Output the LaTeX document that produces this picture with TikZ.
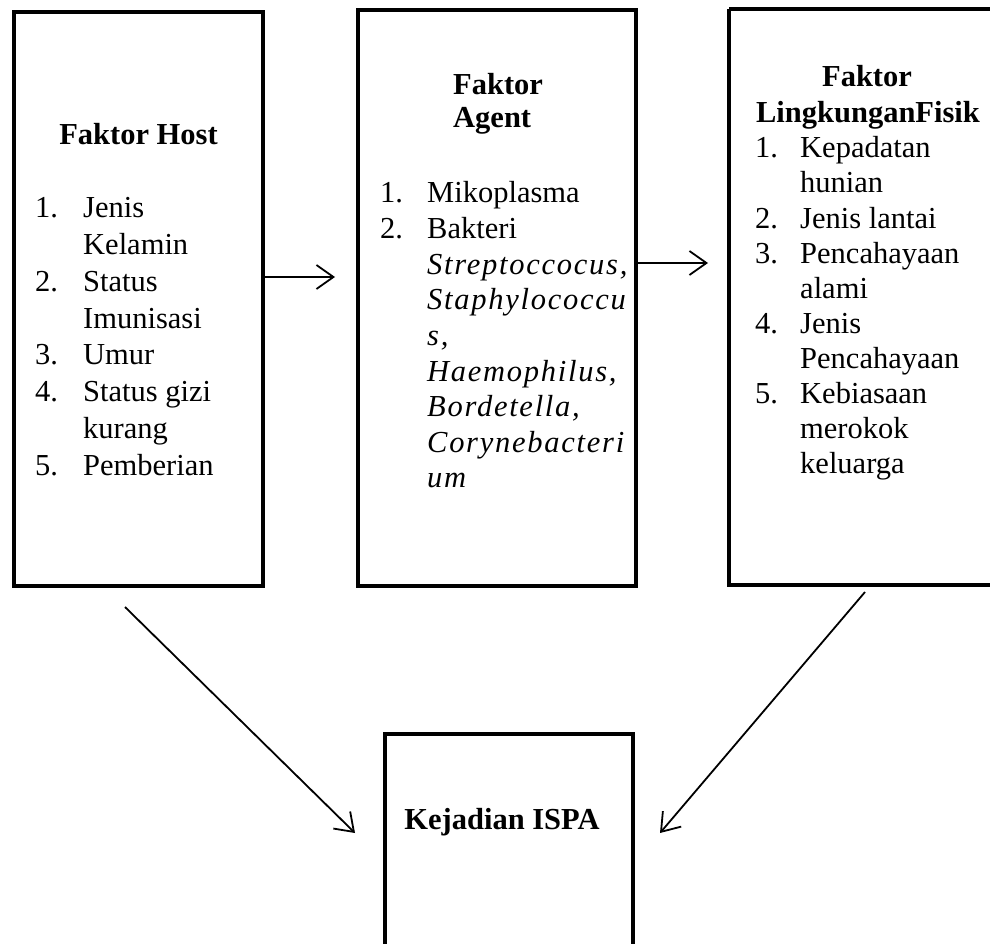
\documentclass[tikz,border=0pt]{standalone}
\usepackage{fontspec}
\setmainfont{Liberation Serif}
\newfontfamily\itsp{Liberation Serif}[LetterSpace=5.7]
\usetikzlibrary{arrows.meta}
\tikzset{
  box/.style={draw, line width=4.5pt, outer sep=0pt, inner sep=0pt, rectangle},
  arr/.style={line width=1.8pt, -{Straight Barb[length=17pt,width=24pt,line width=1.8pt]}},
  txt/.style={anchor=base west, inner sep=0pt, font=\fontsize{30.5}{36}\selectfont},
  ctxt/.style={anchor=base, inner sep=0pt, font=\fontsize{30.5}{36}\selectfont\bfseries},
  ltxt/.style={anchor=base west, inner sep=0pt, font=\fontsize{30.5}{36}\selectfont\bfseries},
  itxt/.style={anchor=base west, inner sep=0pt, font=\fontsize{30.5}{36}\selectfont\itsp\itshape}
}
\begin{document}
\begin{tikzpicture}[x=1pt,y=-1pt]
\useasboundingbox[fill=white] (0,0) rectangle (990,944);
% boxes
\draw[box] (14,12) rectangle (263,586);
\node[inner sep=0pt, outer sep=0pt, minimum width=249pt, minimum height=574pt] (host) at (138.5,299) {};
\draw[box] (358,10) rectangle (636,586);
\node[inner sep=0pt, outer sep=0pt, minimum width=278pt, minimum height=576pt] (agent) at (497,298) {};
\draw[box] (729,9) -- (1000,9);
\draw[box] (1000,585) -- (729,585) -- (729,9);
\node[inner sep=0pt, outer sep=0pt, minimum width=271pt, minimum height=576pt] (env) at (864.5,297) {};
\draw[box] (385,960) -- (385,734) -- (633,734) -- (633,960);
\node[inner sep=0pt, outer sep=0pt, minimum width=248pt, minimum height=226pt] (ispa) at (509,847) {};

% Host text
\node[ctxt] (h0) at (138.5,145) {Faktor Host};
\node[txt] (h1n) at (35,218) {1.};
\node[txt] (h1) at (83,218) {Jenis};
\node[txt] (h1b) at (83,254.7) {Kelamin};
\node[txt] (h2n) at (35,291.4) {2.};
\node[txt] (h2) at (83,291.4) {Status};
\node[txt] (h2b) at (83,328) {Imunisasi};
\node[txt] (h3n) at (35,364.8) {3.};
\node[txt] (h3) at (83,364.8) {Umur};
\node[txt] (h4n) at (35,401.5) {4.};
\node[txt] (h4) at (83,401.5) {Status gizi};
\node[txt] (h4b) at (83,438) {kurang};
\node[txt] (h5n) at (35,475) {5.};
\node[txt] (h5) at (83,475) {Pemberian};

% Agent text
\node[ltxt] (a0) at (453,95) {Faktor};
\node[ltxt] (a0b) at (453,128) {Agent};
\node[txt] (a1n) at (380,203) {1.};
\node[txt] (a1) at (427,203) {Mikoplasma};
\node[txt] (a2n) at (380,238.6) {2.};
\node[txt] (a2) at (427,238.6) {Bakteri};
\node[itxt] (a3) at (427,274.2) {Streptoccocus,};
\node[itxt] (a4) at (427,309.8) {Staphylococcu};
\node[itxt] (a5) at (427,345.4) {s,};
\node[itxt] (a6) at (427,381) {Haemophilus,};
\node[itxt] (a7) at (427,416.6) {Bordetella,};
\node[itxt] (a8) at (427,452.2) {Corynebacteri};
\node[itxt] (a9) at (427,487.8) {um};

% Environment text
\node[ctxt] (e0) at (867,87) {Faktor};
\node[ctxt] (e0b) at (868,123) {LingkunganFisik};
\node[txt] (e1n) at (755,158) {1.};
\node[txt] (e1) at (800,158) {Kepadatan};
\node[txt] (e1b) at (800,193) {hunian};
\node[txt] (e2n) at (755,228) {2.};
\node[txt] (e2) at (800,228) {Jenis lantai};
\node[txt] (e3n) at (755,263) {3.};
\node[txt] (e3) at (800,263) {Pencahayaan};
\node[txt] (e3b) at (800,298) {alami};
\node[txt] (e4n) at (755,333) {4.};
\node[txt] (e4) at (800,333) {Jenis};
\node[txt] (e4b) at (800,368) {Pencahayaan};
\node[txt] (e5n) at (755,403) {5.};
\node[txt] (e5) at (800,403) {Kebiasaan};
\node[txt] (e5b) at (800,438) {merokok};
\node[txt] (e5c) at (800,473) {keluarga};

% ISPA text
\node[ctxt] (i0) at (502,829) {Kejadian ISPA};

% connectors
\coordinate (c1s) at (host.east |- 0,277);
\coordinate (c1e) at (335,277);
\coordinate (c2s) at (agent.east |- 0,263);
\coordinate (c2e) at (708,263);
\coordinate (c3s) at (125,607);
\coordinate (c3e) at (355,833);
\coordinate (c4s) at (865,592);
\coordinate (c4e) at (660,833);
\draw[arr] (c1s) -- (c1e);
\draw[arr] (c2s) -- (c2e);
\draw[arr] (c3s) -- (c3e);
\draw[arr] (c4s) -- (c4e);
\end{tikzpicture}
\end{document}
